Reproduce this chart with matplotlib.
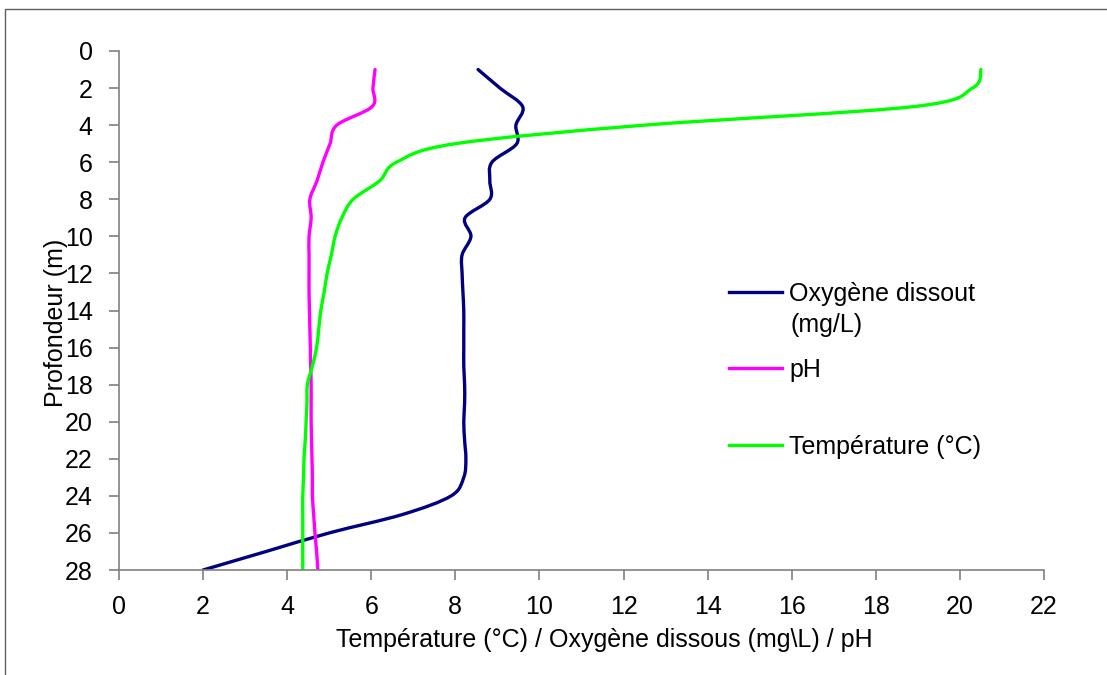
import matplotlib
matplotlib.use("Agg")
import matplotlib.pyplot as plt
from matplotlib.lines import Line2D
from matplotlib.legend import Legend
from matplotlib.path import Path
from matplotlib.patches import PathPatch

plt.rcParams['font.family'] = ['Liberation Sans', 'DejaVu Sans']

depth = [1, 2, 3, 4, 5, 6, 7, 8, 9, 10, 11, 12, 13, 14, 15, 16, 17, 18, 19, 20,
         21, 22, 23, 24, 25, 26, 27, 28]
oxygene = [8.54, 9.06, 9.6, 9.44, 9.46, 8.87, 8.82, 8.82, 8.23, 8.37, 8.16, 8.16,
           8.18, 8.2, 8.2, 8.2, 8.2, 8.22, 8.22, 8.2, 8.22, 8.25, 8.2, 7.9, 6.75,
           5.0, 3.5, 2.0]
ph = [6.09, 6.04, 6.02, 5.18, 5.02, 4.85, 4.71, 4.54, 4.57, 4.52, 4.52, 4.52,
      4.52, 4.53, 4.54, 4.55, 4.56, 4.57, 4.57, 4.57, 4.58, 4.59, 4.6, 4.6, 4.63,
      4.66, 4.7, 4.73]
temperature = [20.5, 20.3, 18.9, 12.5, 8.0, 6.6, 6.2, 5.57, 5.3, 5.14, 5.05, 4.95,
               4.88, 4.8, 4.75, 4.7, 4.6, 4.48, 4.47, 4.45, 4.43, 4.4, 4.39, 4.37,
               4.37, 4.37, 4.37, 4.37]

x_ticks = list(range(0, 23, 2))
y_ticks = list(range(0, 29, 2))

series = [
    (oxygene, '#000080', 'Oxygène dissout'),
    (ph, '#FF00FF', 'pH'),
    (temperature, '#00FF00', 'Température (°C)'),
]
legend_rows_px = [294, 370, 447]


def smooth_path(xs, ys):
    """Excel-like smoothed line: cubic Bezier through the data points."""
    n = len(xs)
    verts = [(xs[0], ys[0])]
    codes = [Path.MOVETO]
    for i in range(n - 1):
        x0, y0 = xs[max(i - 1, 0)], ys[max(i - 1, 0)]
        x1, y1 = xs[i], ys[i]
        x2, y2 = xs[i + 1], ys[i + 1]
        x3, y3 = xs[min(i + 2, n - 1)], ys[min(i + 2, n - 1)]
        c1 = (x1 + (x2 - x0) / 6.0, y1 + (y2 - y0) / 6.0)
        c2 = (x2 - (x3 - x1) / 6.0, y2 - (y3 - y1) / 6.0)
        verts += [c1, c2, (x2, y2)]
        codes += [Path.CURVE4, Path.CURVE4, Path.CURVE4]
    return Path(verts, codes)


W, H = 1107, 675
fig = plt.figure(figsize=(W / 100, H / 100), dpi=100)
ax = fig.add_axes([119 / W, 1 - 570 / H, (1044 - 119) / W, (570 - 51) / H])

handles = []
for vals, col, lab in series:
    patch = PathPatch(smooth_path(vals, depth), facecolor='none', edgecolor=col,
                      lw=2.4, capstyle='round', joinstyle='round')
    ax.add_patch(patch)
    handles.append(Line2D([], [], color=col, lw=2.4, label=lab))

ax.set_xlim(0, 22)
ax.set_ylim(28, 0)
ax.set_xticks(x_ticks)
ax.set_yticks(y_ticks)
for s in ['top', 'right']:
    ax.spines[s].set_visible(False)
for s in ['left', 'bottom']:
    ax.spines[s].set_color('#808080')
    ax.spines[s].set_linewidth(1.2)
ax.tick_params(axis='both', direction='out', length=7, width=1.2, color='#808080',
               labelsize=18, labelcolor='black')
ax.tick_params(axis='x', pad=11)
ax.tick_params(axis='y', pad=12)
ax.set_xlabel('Température (°C) / Oxygène dissous (mg\\L) / pH', fontsize=18)
ax.xaxis.set_label_coords((604 - 119) / (1044 - 119), -(640 - 570) / (570 - 51))
ax.xaxis.label.set_va('center')
ax.set_ylabel('Profondeur (m)', fontsize=18)
ax.yaxis.set_label_coords(-(119 - 56) / (1044 - 119), 1 - (323 - 51) / (570 - 51))
ax.yaxis.label.set_va('center')

# legend: one entry per row, positioned like the reference
for h, ypx in zip(handles, legend_rows_px):
    lg = Legend(ax, [h], [h.get_label()], loc='center left',
                bbox_to_anchor=(729 / W, 1 - ypx / H), bbox_transform=fig.transFigure,
                frameon=False, fontsize=18, handlelength=2.1, handletextpad=0.3,
                borderaxespad=0, borderpad=0)
    ax.add_artist(lg)
fig.text(790 / W, 1 - 325 / H, '(mg/L)', fontsize=18, ha='left', va='center')

fig.add_artist(Line2D([4.5 / W, 4.5 / W, 1], [0, 1 - 9 / H, 1 - 9 / H],
                      transform=fig.transFigure, color='#606060', lw=1))

fig.savefig('out.png', dpi=100)
